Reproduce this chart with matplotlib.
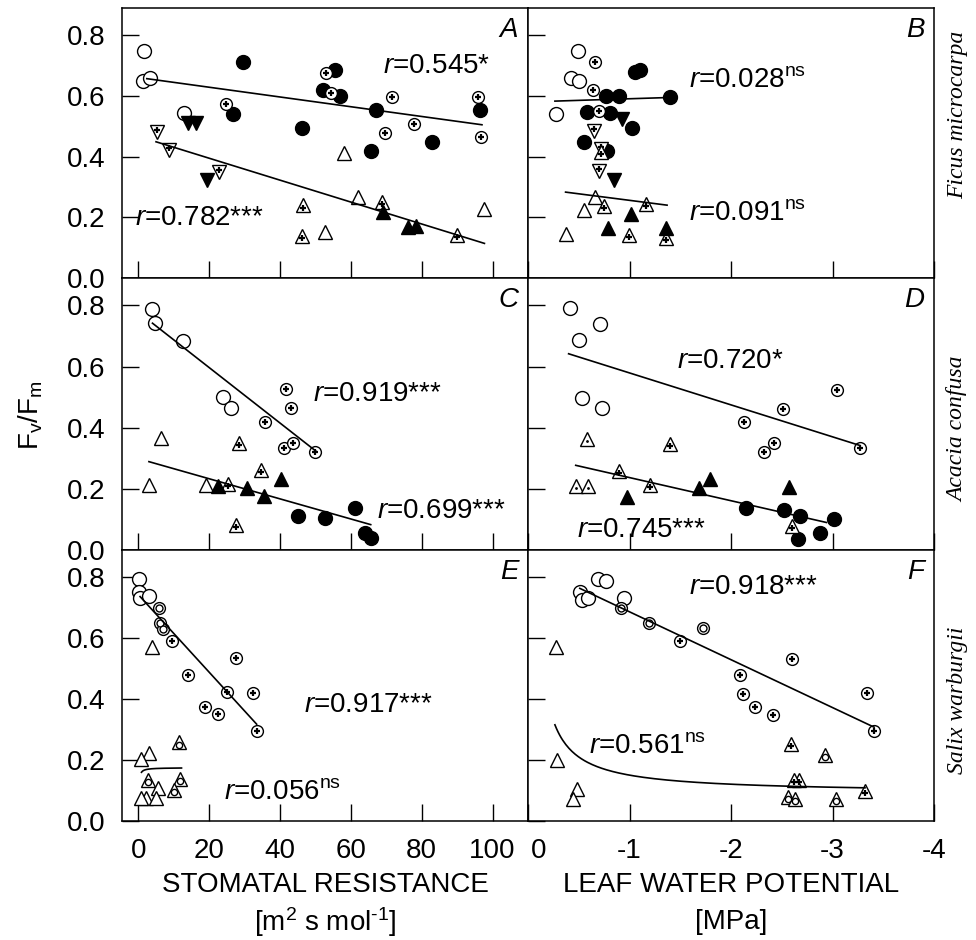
import numpy as np
import matplotlib
matplotlib.use("Agg")
import matplotlib.pyplot as plt
from matplotlib.transforms import offset_copy, ScaledTranslation

plt.rcParams['font.family'] = ['Liberation Sans', 'DejaVu Sans']
plt.rcParams['mathtext.fontset'] = 'custom'
plt.rcParams['mathtext.rm'] = 'Liberation Sans'
plt.rcParams['mathtext.it'] = 'Liberation Sans:italic'
plt.rcParams['mathtext.default'] = 'regular'
plt.rcParams['axes.unicode_minus'] = False

# ---- data: panel A (Ficus, stomatal resistance) ----
A_open_x = [1.6, 1.4, 3.3, 12.9]
A_open_y = [0.749, 0.65, 0.659, 0.545]
A_fill_x = [29.5, 26.6, 46.1, 52.0, 55.4, 56.8, 67.1, 65.6, 83.0, 96.5]
A_fill_y = [0.711, 0.54, 0.496, 0.621, 0.684, 0.599, 0.554, 0.42, 0.447, 0.553]
A_plus_x = [53.0, 24.7, 54.3, 71.6, 77.7, 69.7, 95.9, 96.8]
A_plus_y = [0.677, 0.574, 0.61, 0.597, 0.507, 0.477, 0.597, 0.464]
A_dnfill_x = [14.1, 16.3, 19.5]
A_dnfill_y = [0.51, 0.51, 0.323]
A_dnplus_x = [5.2, 8.8, 22.8]
A_dnplus_y = [0.482, 0.423, 0.35]
A_tri_x = [58.1, 61.9, 52.7, 97.7]
A_tri_y = [0.413, 0.267, 0.151, 0.228]
A_triplus_x = [46.6, 46.3, 68.7, 89.9]
A_triplus_y = [0.239, 0.138, 0.25, 0.141]
A_trifill_x = [69.2, 76.0, 78.3]
A_trifill_y = [0.219, 0.167, 0.17]

# ---- panel B (Ficus, leaf water potential) ----
B_open_x = [-0.49, -0.42, -0.50, -0.275]
B_open_y = [0.748, 0.659, 0.649, 0.541]
B_plus_x = [-0.66, -0.64, -0.70]
B_plus_y = [0.712, 0.621, 0.551]
B_fill_x = [-1.05, -1.10, -0.77, -0.90, -0.58, -0.81, -1.40, -1.02, -0.555, -0.78]
B_fill_y = [0.678, 0.686, 0.600, 0.599, 0.548, 0.543, 0.597, 0.496, 0.449, 0.42]
B_dnfill_x = [-0.93, -0.85]
B_dnfill_y = [0.524, 0.323]
B_dnplus_x = [-0.65, -0.72, -0.70]
B_dnplus_y = [0.483, 0.426, 0.351]
B_tri_x = [-0.66, -0.55, -0.37]
B_tri_y = [0.267, 0.224, 0.146]
B_triplus_x = [-0.72, -0.75, -1.16, -0.99, -1.36]
B_triplus_y = [0.415, 0.237, 0.243, 0.143, 0.132]
B_trifill_x = [-1.01, -0.79, -1.36]
B_trifill_y = [0.211, 0.164, 0.166]

# ---- panel C (Acacia, stomatal resistance) ----
C_open_x = [3.8, 4.7, 12.7, 23.8, 26.2]
C_open_y = [0.79, 0.742, 0.685, 0.499, 0.466]
C_plus_x = [41.6, 43.1, 35.8, 41.0, 43.8, 49.9]
C_plus_y = [0.527, 0.463, 0.42, 0.335, 0.351, 0.322]
C_tri_x = [6.4, 3.0, 19.1]
C_tri_y = [0.368, 0.214, 0.214]
C_triplus_x = [28.5, 34.7, 25.2, 27.5]
C_triplus_y = [0.349, 0.261, 0.216, 0.083]
C_trifill_x = [22.4, 30.6, 35.5, 40.3]
C_trifill_y = [0.209, 0.203, 0.176, 0.231]
C_fill_x = [45.2, 52.7, 61.2, 64.0, 65.6]
C_fill_y = [0.11, 0.105, 0.138, 0.055, 0.039]

# ---- panel D (Acacia, leaf water potential) ----
D_open_x = [-0.41, -0.71, -0.50, -0.53, -0.73]
D_open_y = [0.791, 0.74, 0.686, 0.498, 0.465]
D_plus_x = [-3.04, -2.51, -2.13, -2.42, -2.32, -3.27]
D_plus_y = [0.524, 0.46, 0.42, 0.351, 0.322, 0.333]
D_tridot_x = [-0.58, -0.47, -0.59]
D_tridot_y = [0.364, 0.21, 0.21]
D_triplus_x = [-1.40, -0.90, -1.20, -2.60]
D_triplus_y = [0.346, 0.259, 0.213, 0.079]
D_trifill_x = [-0.98, -1.68, -1.79, -2.57]
D_trifill_y = [0.172, 0.202, 0.232, 0.207]
D_fill_x = [-2.15, -2.52, -2.68, -3.01, -2.66, -2.88]
D_fill_y = [0.137, 0.132, 0.112, 0.101, 0.036, 0.054]

# ---- panel E (Salix, stomatal resistance) ----
E_open_x = [0.2, 0.2, 0.5, 3.0]
E_open_y = [0.795, 0.751, 0.731, 0.738]
E_dbl_x = [5.9, 6.1, 7.1]
E_dbl_y = [0.698, 0.65, 0.631]
E_plus_x = [9.4, 27.5, 14.1, 25.0, 32.3, 18.8, 22.6, 33.4]
E_plus_y = [0.592, 0.534, 0.481, 0.422, 0.419, 0.376, 0.351, 0.296]
E_tri_x = [3.8, 3.1, 0.9, 5.5, 2.2, 5.0, 0.8]
E_tri_y = [0.572, 0.222, 0.203, 0.108, 0.077, 0.077, 0.075]
E_tricirc_x = [11.6, 2.8, 11.8, 10.1]
E_tricirc_y = [0.258, 0.134, 0.137, 0.101]

# ---- panel F (Salix, leaf water potential) ----
F_open_x = [-0.69, -0.77, -0.51, -0.53, -0.59, -0.95]
F_open_y = [0.794, 0.788, 0.751, 0.725, 0.733, 0.731]
F_dbl_x = [-0.92, -1.19, -1.72]
F_dbl_y = [0.698, 0.649, 0.633]
F_plus_x = [-1.50, -2.60, -2.09, -2.12, -2.24, -2.41, -3.34, -3.41]
F_plus_y = [0.591, 0.532, 0.48, 0.417, 0.373, 0.349, 0.42, 0.295]
F_tri_x = [-0.28, -0.29, -0.48, -0.44]
F_tri_y = [0.573, 0.2, 0.104, 0.071]
F_triplus_x = [-2.59, -2.67, -2.62, -3.32]
F_triplus_y = [0.254, 0.136, 0.136, 0.1]
F_tricirc_x = [-2.93, -2.56, -2.63, -3.03]
F_tricirc_y = [0.216, 0.079, 0.073, 0.073]

# regression fits: (kind, a, b, x_from, x_to); lin: y=a+b*x, inv: y=a+b/|x|
fits = {
    'A': [('lin', 0.6609, -0.001607, 2.4, 97.0), ('lin', 0.467, -0.003614, 5.0, 97.7)],
    'B': [('lin', 0.5802, -0.01057, -0.265, -1.40), ('lin', 0.2989, 0.043, -0.37, -1.37)],
    'C': [('lin', 0.7783, -0.009073, 4.0, 50.4), ('lin', 0.2989, -0.003291, 3.0, 65.6)],
    'D': [('lin', 0.6838, 0.10453, -0.40, -3.27), ('lin', 0.3126, 0.07571, -0.47, -2.94)],
    'E': [('lin', 0.7434, -0.012736, 0.5, 33.4), ('inv', 0.1751, -0.01362, 0.9, 12.2)],
    'F': [('lin', 0.8442, 0.15724, -0.51, -3.41), ('inv', 0.091, 0.0596, -0.265, -3.32)],
}

# r labels: (text, x, y baseline)
labels = {
    'A': [(r'$\mathit{r}$=0.545*', 69.1, 0.676), (r'$\mathit{r}$=0.782***', -0.9, 0.174)],
    'B': [(r'$\mathit{r}$=0.028$^{ns}$', -1.59, 0.631), (r'$\mathit{r}$=0.091$^{ns}$', -1.59, 0.192)],
    'C': [(r'$\mathit{r}$=0.919***', 49.4, 0.486), (r'$\mathit{r}$=0.699***', 67.4, 0.106)],
    'D': [(r'$\mathit{r}$=0.720*', -1.465, 0.597), (r'$\mathit{r}$=0.745***', -0.486, 0.041)],
    'E': [(r'$\mathit{r}$=0.917***', 46.8, 0.358), (r'$\mathit{r}$=0.056$^{ns}$', 24.3, 0.072)],
    'F': [(r'$\mathit{r}$=0.918***', -1.59, 0.747), (r'$\mathit{r}$=0.561$^{ns}$', -0.605, 0.223)],
}

species = ['Ficus microcarpa', 'Acacia confusa', 'Salix warburgii']

fig = plt.figure(figsize=(9.76, 9.4), dpi=100)
L, M, R = 0.125, 0.541, 0.957
rows = [(0.7043, 0.9915), (0.4149, 0.7043), (0.1266, 0.4149)]
axes = {}
names = [('A', 'B'), ('C', 'D'), ('E', 'F')]
for (b, t), (n1, n2) in zip(rows, names):
    axes[n1] = fig.add_axes([L, b, M - L, t - b])
    axes[n2] = fig.add_axes([M, b, R - M, t - b])

MS = 10
EW = 1.0


def pts(ax, x, y, kind):
    if kind == 'open':
        ax.plot(x, y, 'o', ms=MS, mfc='white', mec='black', mew=EW, ls='none', zorder=3)
    elif kind == 'fill':
        ax.plot(x, y, 'o', ms=MS, mfc='black', mec='black', mew=EW, ls='none', zorder=3)
    elif kind in ('plus', 'dbl'):
        ax.plot(x, y, 'o', ms=8.5, mfc='white', mec='black', mew=EW, ls='none', zorder=3)
        if kind == 'plus':
            ax.plot(x, y, '+', ms=5, mec='black', mew=1.6, ls='none', zorder=3)
        else:
            ax.plot(x, y, 'o', ms=5, mfc='white', mec='black', mew=EW, ls='none', zorder=3)
    elif kind.startswith('dn'):
        face = 'black' if kind == 'dnfill' else 'white'
        ax.plot(x, y, 'v', ms=MS, mfc=face, mec='black', mew=EW, ls='none', zorder=3)
        if kind == 'dnplus':
            tr = offset_copy(ax.transData, fig=fig, y=1.5, units='points')
            ax.plot(x, y, '+', ms=5, mec='black', mew=1.6, ls='none', zorder=3, transform=tr)
    else:
        face = 'black' if kind == 'trifill' else 'white'
        ax.plot(x, y, '^', ms=MS, mfc=face, mec='black', mew=EW, ls='none', zorder=3)
        tr = offset_copy(ax.transData, fig=fig, y=-1.5, units='points')
        if kind == 'triplus':
            ax.plot(x, y, '+', ms=5, mec='black', mew=1.6, ls='none', zorder=3, transform=tr)
        elif kind == 'tridot':
            ax.plot(x, y, '.', ms=2, color='black', ls='none', zorder=3, transform=tr)
        elif kind == 'tricirc':
            ax.plot(x, y, 'o', ms=4.5, mfc='white', mec='black', mew=EW, ls='none', zorder=3,
                    transform=tr)


g = globals()
kinds = ['open', 'fill', 'plus', 'dbl', 'dnfill', 'dnplus', 'tri', 'triplus', 'trifill',
         'tridot', 'tricirc']
for p, ax in axes.items():
    for k in kinds:
        if f'{p}_{k}_x' in g:
            pts(ax, g[f'{p}_{k}_x'], g[f'{p}_{k}_y'], k)
    for kind, a, b, x0, x1 in fits[p]:
        xs = np.linspace(x0, x1, 200)
        ys = a + b * xs if kind == 'lin' else a + b / np.abs(xs)
        ax.plot(xs, ys, color='black', lw=1.2, zorder=4)
    for txt, tx, ty in labels[p]:
        ax.text(tx, ty, txt, fontsize=20, ha='left', va='baseline', zorder=5)
    ax.text(0.976, 0.965, p, transform=ax.transAxes, fontsize=20, style='italic',
            ha='right', va='top')

    ax.set_ylim(0, 0.89)
    ax.set_yticks([0.0, 0.2, 0.4, 0.6, 0.8])
    for s in ax.spines.values():
        s.set_linewidth(1.1)
    ax.tick_params(direction='in', length=12, width=1, labelsize=20, pad=12,
                   top=False, right=False)
    if p in 'ACE':
        ax.set_xlim(-4.6, 110)
        ax.set_xticks([0, 20, 40, 60, 80, 100])
        ax.set_yticklabels(['0.0', '0.2', '0.4', '0.6', '0.8'])
    else:
        ax.set_xlim(0, -4)
        ax.set_xticks([0, -1, -2, -3, -4])
        ax.set_yticklabels([])
    if p not in 'EF':
        ax.set_xticklabels([])
    else:
        ax.set_xticklabels(['0', '20', '40', '60', '80', '100'] if p == 'E'
                           else ['0', '-1', '-2', '-3', '-4'])

# nudge the "0" of the right axis away from "100"
zero = axes['F'].get_xticklabels()[0]
zero.set_transform(zero.get_transform() + ScaledTranslation(0.11, 0, fig.dpi_scale_trans))

for name, yc in zip(species, [0.878, 0.543, 0.255]):
    fig.text(0.981, yc, name, rotation=90, fontsize=17, style='italic',
             family='Liberation Serif', ha='center', va='center')

fig.text(0.032, 0.5585, r'F$_v$/F$_m$', rotation=90, fontsize=20, ha='center', va='center')
fig.text(0.333, 0.058, 'STOMATAL RESISTANCE', fontsize=20, ha='center', va='center')
fig.text(0.333, 0.019, r'[m$^2$ s mol$^{\text{-}1}$]', fontsize=20, ha='center', va='center')
fig.text(0.749, 0.058, 'LEAF WATER POTENTIAL', fontsize=20, ha='center', va='center')
fig.text(0.749, 0.019, '[MPa]', fontsize=20, ha='center', va='center')

plt.savefig('out.png', dpi=100)
